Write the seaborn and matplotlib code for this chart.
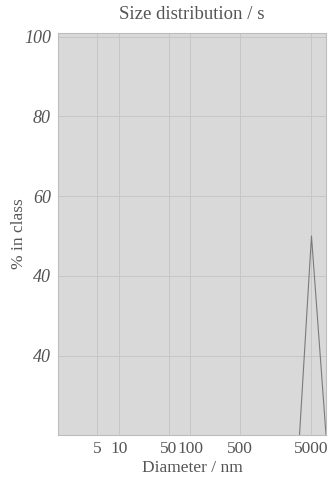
import matplotlib
matplotlib.use("Agg")
import matplotlib.pyplot as plt
import seaborn as sns
import pandas as pd

# Data
diameter_nm = [3400, 5000, 8000]
percent_in_class = [0, 50, 0]
x_tick_values = [5, 10, 50, 100, 500, 5000]
x_tick_labels = ["5", "10", "50", "100", "500", "5000"]
y_tick_values = [20, 40, 60, 80, 100]
y_tick_labels = ["40", "40", "60", "80", "100"]

df = pd.DataFrame({"Diameter": diameter_nm, "Percent": percent_in_class})

sns.set_theme(style="white")
plt.rcParams["font.family"] = ["Liberation Serif", "DejaVu Serif"]

fig = plt.figure(figsize=(3.29, 4.83), dpi=100)
ax = fig.add_axes([0.176, 0.099, 0.815, 0.833])
ax.set_facecolor("#d9d9d9")

sns.lineplot(data=df, x="Diameter", y="Percent", ax=ax, color="#7a7a7a", linewidth=0.8)

ax.set_xscale("log")
ax.set_xlim(1.4, 8000)
ax.set_ylim(0, 101)
ax.set_xticks(x_tick_values)
ax.set_xticklabels(x_tick_labels)
ax.minorticks_off()
ax.set_yticks(y_tick_values)
ax.set_yticklabels(y_tick_labels, fontstyle="italic")

ax.grid(True, color="#c6c6c6", linewidth=0.7)
ax.tick_params(axis="x", length=0, colors="#555555", labelsize=12.5, pad=4)
ax.tick_params(axis="y", length=0, colors="#555555", labelsize=13, pad=5)
for s in ax.spines.values():
    s.set_color("#bdbdbd")
    s.set_linewidth(0.8)

ax.set_xlabel("Diameter / nm", color="#555555", fontsize=12.5, labelpad=2)
ax.set_ylabel("% in class", color="#555555", fontsize=12.5)
ax.yaxis.set_label_coords(-0.115, 0.5)
ax.set_title("Size distribution / s", color="#555555", fontsize=13.5, pad=10)

fig.savefig("out.png", dpi=100, facecolor="white")
